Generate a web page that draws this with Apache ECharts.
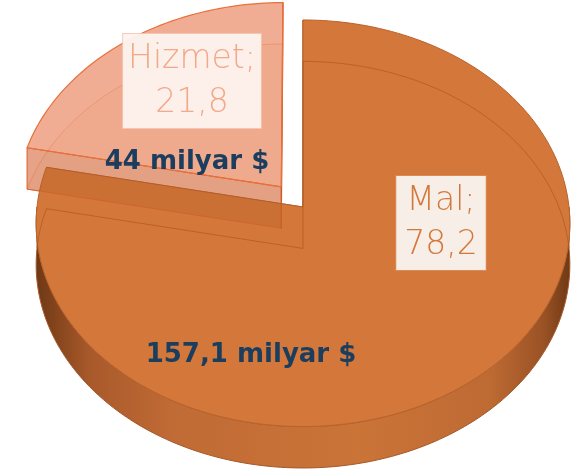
<!DOCTYPE html>
<html>
<head>
<meta charset="utf-8">
<script src="https://cdn.jsdelivr.net/npm/echarts@6/dist/echarts.min.js"></script>
<style>html,body{margin:0;padding:0;background:#fff}#c{width:572px;height:469px}</style>
</head>
<body>
<div id="c"></div>
<script>
// ---- data ----
const categories = ['Mal', 'Hizmet'];
const shares = [78.2, 21.8];
const amounts = [157.1, 44];
const amountUnit = 'milyar $';

// ---- layout / style ----
const W = 572, H = 469;
const L = { cx: 303, cy: 207, rx: 266, ry: 202, persp: 0.08, depth: 0.205 };
const explode = [0, 0.13];
const boxPos = [[441, 223], [192, 81]];
const amountPos = [[251, 355], [187, 162]];
const fmt = v => String(v).replace('.', ',');

const total = shares.reduce((a, b) => a + b, 0);
const starts = [];
{ let acc = 0; shares.forEach(s => { starts.push(acc); acc += s; }); }

function proj(api, u, v, h, off) {
  u += off[0]; v += off[1];
  const p = 1 / (1 - L.persp * v);
  return api.coord([u * p, v * p + h]);
}
function arc(api, a0, a1, h, off) {
  const n = Math.max(2, Math.ceil(Math.abs(a1 - a0) / 1.5) + 1);
  const pts = [];
  for (let k = 0; k < n; k++) {
    const a = (a0 + (a1 - a0) * k / (n - 1)) * Math.PI / 180;
    pts.push(proj(api, Math.cos(a), -Math.sin(a), h, off));
  }
  return pts;
}

function renderItem(params, api) {
  const i = params.dataIndex;
  const a0 = 90 - starts[i] / total * 360;
  const a1 = 90 - (starts[i] + shares[i]) / total * 360;
  const mid = (a0 + a1) / 2 * Math.PI / 180;
  const e = explode[i];
  const off = [e * Math.cos(mid), -e * Math.sin(mid)];
  const D = L.depth;
  const children = [];
  const isLight = i === 1;

  const topArc = arc(api, a0, a1, 0, off);
  const apexT = proj(api, 0, 0, 0, off);
  const apexB = proj(api, 0, 0, D, off);
  const botArc = arc(api, a0, a1, D, off);

  if (isLight) {
    children.push({ type: 'polygon', z2: 21, shape: { points: [apexB].concat(botArc) },
      style: { fill: 'rgba(205,100,45,0.05)', stroke: 'rgba(232,112,58,0.4)', lineWidth: 1 } });
  }
  // cut faces
  [a0, a1].forEach(a => {
    const r = a * Math.PI / 180;
    const u = Math.cos(r), v = -Math.sin(r);
    const q = [apexT, proj(api, u, v, 0, off), proj(api, u, v, D, off), apexB];
    if (isLight) {
      children.push({ type: 'polygon', z2: 3.5, shape: { points: q },
        style: { fill: 'rgba(230,118,75,0.6)', stroke: 'rgba(232,112,58,0.8)', lineWidth: 1 } });
      children.push({ type: 'polygon', z2: 22, shape: { points: q },
        style: { fill: 'rgba(120,55,15,0.08)', stroke: 'rgba(200,90,40,0.5)', lineWidth: 1 } });
    } else {
      children.push({ type: 'polygon', z2: 2, shape: { points: q },
        style: { fill: '#C46A30', stroke: '#B0602A', lineWidth: 1 } });
    }
  });
  // front outer wall
  for (let k = -2; k <= 1; k++) {
    const lo = Math.max(a1, -180 + 360 * k), hi = Math.min(a0, 360 * k);
    if (lo < hi) {
      const pts = arc(api, hi, lo, 0, off).concat(arc(api, lo, hi, D, off));
      children.push({ type: 'polygon', z2: 3, shape: { points: pts },
        style: { fill: new echarts.graphic.LinearGradient(0, 0, 1, 0, [
          { offset: 0, color: '#6E3814' }, { offset: 0.1, color: '#A8592A' },
          { offset: 0.25, color: '#C06A35' }, { offset: 0.6, color: '#CB7438' },
          { offset: 0.85, color: '#BE6A33' }, { offset: 0.95, color: '#9A5225' }, { offset: 1, color: '#6E3814' }]),
          stroke: '#A4582A', lineWidth: 1 } });
    }
  }
  // top face
  children.push({ type: 'polygon', z2: isLight ? 24 : 4, shape: { points: [apexT].concat(topArc) },
    style: isLight ? { fill: 'rgba(230,118,75,0.6)', stroke: '#E8703A', lineWidth: 1.2 }
                   : { fill: '#D3783A', stroke: '#B8622C', lineWidth: 1 } });
  if (!isLight) {
    const backA = a1 < -180 ? arc(api, -180, a1, D, off) : [];
    const line = arc(api, 0, a0, D, off).concat([apexB]).concat(
      [proj(api, Math.cos(a1 * Math.PI / 180), -Math.sin(a1 * Math.PI / 180), D, off)]).concat(backA.reverse());
    children.push({ type: 'polyline', z2: 5, shape: { points: line },
      style: { fill: null, stroke: 'rgba(160,80,25,0.55)', lineWidth: 1 } });
  }

  // category label box
  children.push({ type: 'text', z2: 60, x: boxPos[i][0], y: boxPos[i][1],
    style: {
      text: categories[i] + ';\n' + fmt(shares[i]),
      font: '200 33px "DejaVu Sans", Lato, sans-serif',
      lineHeight: 44, align: 'center', verticalAlign: 'middle',
      fill: isLight ? '#F2A98A' : '#D4783A',
      backgroundColor: isLight ? 'rgba(253,242,238,0.96)' : '#F8EEE8',
      borderColor: isLight ? 'rgba(245,200,180,0.9)' : '#DC8A55', borderWidth: 1,
      padding: isLight ? [3, 5, 3, 5] : [3, 8, 3, 8],
      boxShadowBlur: 8, boxShadowColor: 'rgba(120,50,10,0.35)', boxShadowOffsetX: 2, boxShadowOffsetY: 3
    } });
  // amount label
  children.push({ type: 'text', z2: 61, x: amountPos[i][0], y: amountPos[i][1],
    style: { text: fmt(amounts[i]) + ' ' + amountUnit, font: 'bold 26px "DejaVu Sans", Lato, sans-serif',
      align: 'center', verticalAlign: 'middle', fill: '#1B3D5E' } });

  return { type: 'group', children };
}

const chart = echarts.init(document.getElementById('c'));
chart.setOption({
  animation: false,
  grid: { left: 0, right: 0, top: 0, bottom: 0 },
  xAxis: { type: 'value', min: -L.cx / L.rx, max: (W - L.cx) / L.rx, show: false },
  yAxis: { type: 'value', inverse: true, min: -L.cy / L.ry, max: (H - L.cy) / L.ry, show: false },
  series: [{
    type: 'custom',
    renderItem,
    data: categories.map((c, i) => ({ name: c, value: [i, shares[i]] })),
    clip: false
  }]
});
</script>
</body>
</html>
